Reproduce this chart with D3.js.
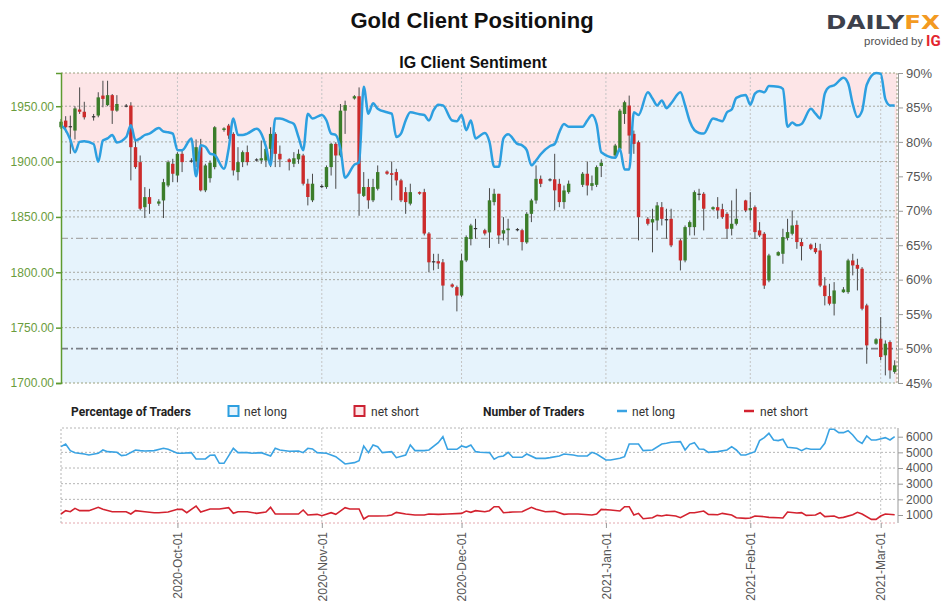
<!DOCTYPE html>
<html>
<head>
<meta charset="utf-8">
<script src="https://cdnjs.cloudflare.com/ajax/libs/d3/7.8.5/d3.min.js"></script>
<style>
  body { margin: 0; background: #fff; }
  svg { font-family: Roboto, "Liberation Sans", sans-serif; }
</style>
</head>
<body>
<svg id="chart" width="952" height="603"></svg>
<script>
// Gold daily candles: [date, open, high, low, close], one line per week
const candles = [
  ["2020-09-06",1931,1938.5,1929.5,1936],["2020-09-07",1937,1941,1926.5,1931],["2020-09-08",1932,1941.5,1907,1931],["2020-09-09",1928,1950,1920,1948],["2020-09-10",1947,1967,1943,1945],["2020-09-11",1945,1954,1938,1940],
  ["2020-09-13",1941,1943,1937,1940],["2020-09-14",1941.6,1962.6,1940,1958],["2020-09-15",1959.6,1973,1949,1956.6],["2020-09-16",1951,1973,1950,1960],["2020-09-17",1960,1961,1934,1946],["2020-09-18",1946,1960,1945,1952],
  ["2020-09-20",1950.6,1952,1949,1950],["2020-09-21",1950.6,1953.6,1883,1913],["2020-09-22",1913,1919,1893.5,1895],["2020-09-23",1899.5,1905.5,1855.8,1857.4],["2020-09-24",1858.8,1876.9,1849,1867.9],["2020-09-25",1867.9,1875.4,1852.8,1861.8],
  ["2020-09-27",1862,1866,1860,1864],["2020-09-28",1864.9,1884.4,1849,1881.4],["2020-09-29",1878.4,1901,1876.9,1899.5],["2020-09-30",1898,1902.5,1881.4,1889],["2020-10-01",1887.4,1908.5,1881.4,1907],["2020-10-02",1907,1910,1890.5,1899.5],
  ["2020-10-04",1901,1903,1899,1900.5],["2020-10-05",1900,1920,1895,1913],["2020-10-06",1913,1920.5,1873,1874],["2020-10-07",1874,1898,1872.4,1896.5],["2020-10-08",1885,1901,1881,1899],["2020-10-09",1895,1932,1893,1931],
  ["2020-10-11",1928.5,1931,1927,1930],["2020-10-12",1932.5,1934,1920.5,1923.5],["2020-10-13",1925,1926.5,1887.4,1892],["2020-10-14",1890.5,1913,1883,1899.5],["2020-10-15",1899.5,1910,1895,1908.5],["2020-10-16",1908.5,1914.5,1896.5,1899.5],
  ["2020-10-18",1902,1903,1900,1901],["2020-10-19",1901,1919,1898,1903],["2020-10-20",1901,1913,1895,1911.5],["2020-10-21",1911.5,1931,1895,1925],["2020-10-22",1925,1926.5,1895,1907],["2020-10-23",1907,1914.5,1895,1902],
  ["2020-10-25",1902,1903,1892,1899.5],["2020-10-26",1898,1908.5,1895,1903],["2020-10-27",1902,1911,1898,1907],["2020-10-28",1905.5,1907,1878.4,1880],["2020-10-29",1880,1884.4,1860.4,1868],["2020-10-30",1865,1889,1863.4,1880],
  ["2020-11-01",1877,1879.5,1876,1878],["2020-11-02",1877,1896.5,1875.4,1895],["2020-11-03",1895,1917,1887.4,1916],["2020-11-04",1916,1917.5,1875.4,1905.5],["2020-11-05",1905.5,1952,1904,1946],["2020-11-06",1946,1955,1925,1951],
  ["2020-11-08",1957,1960,1956,1959],["2020-11-09",1959,1967,1851,1871],["2020-11-10",1869,1890.5,1868,1877],["2020-11-11",1877,1884.4,1857.4,1865],["2020-11-12",1865,1884.4,1863.4,1877],["2020-11-13",1875.4,1896.5,1873.9,1890.5],
  ["2020-11-15",1891,1892,1888,1889],["2020-11-16",1889.5,1900,1865,1888],["2020-11-17",1890.5,1893.5,1878.4,1883],["2020-11-18",1883,1884.4,1863.4,1865],["2020-11-19",1872.4,1876.9,1852.8,1863.4],["2020-11-20",1862,1880,1860.4,1872.4],
  ["2020-11-22",1872.4,1873,1870,1871],["2020-11-23",1872.4,1875.4,1833.3,1835],["2020-11-24",1835,1836.3,1800,1809],["2020-11-25",1809,1816.7,1801.7,1810],["2020-11-26",1810,1816.7,1803,1808],["2020-11-27",1809,1812,1774.6,1788],
  ["2020-11-29",1789,1790,1786,1787],["2020-11-30",1786.6,1788,1764.7,1779],["2020-12-01",1779,1816.7,1777.6,1810.7],["2020-12-02",1810.7,1833.3,1809.2,1831.8],["2020-12-03",1830,1843.8,1824.3,1842.3],["2020-12-04",1840,1848.3,1830.3,1839],
  ["2020-12-06",1838,1839.3,1833.3,1835],["2020-12-07",1836,1876,1822,1865],["2020-12-08",1863.4,1875.4,1860.4,1870.9],["2020-12-09",1870.9,1870.9,1825.7,1833.3],["2020-12-10",1835,1849.8,1828.8,1838],["2020-12-11",1838,1848.3,1824.3,1839.5],
  ["2020-12-13",1839,1840,1837,1838],["2020-12-14",1838,1839.3,1819.7,1827.3],["2020-12-15",1827,1854.3,1825.7,1852.8],["2020-12-16",1852.8,1866.4,1845.3,1864.9],["2020-12-17",1864.9,1896.5,1861.9,1884.4],["2020-12-18",1884.4,1887.4,1876.9,1879.9],
  ["2020-12-20",1883,1885,1882,1884],["2020-12-21",1884,1907,1856,1874],["2020-12-22",1879.9,1884.4,1858.8,1863.4],["2020-12-23",1863.4,1878.4,1857.4,1873.9],["2020-12-24",1872.4,1882.9,1870.9,1880],
  ["2020-12-27",1879,1890.5,1877,1889],["2020-12-28",1889,1900,1869.4,1878.4],["2020-12-29",1878,1887.4,1873.9,1880.5],["2020-12-30",1879,1896.5,1877,1895],["2020-12-31",1896,1902,1886,1899],
  ["2021-01-03",1905.5,1916,1904,1914.5],["2021-01-04",1911.5,1947.6,1910,1946],["2021-01-05",1943,1955,1934,1953.6],["2021-01-06",1950.6,1959.6,1907,1923.5],["2021-01-07",1925,1928,1907,1916],["2021-01-08",1917.5,1919,1828.8,1849.8],
  ["2021-01-10",1848.3,1849.8,1842.3,1843.8],["2021-01-11",1845,1857.4,1818,1848],["2021-01-12",1846.8,1863.4,1837.8,1860.4],["2021-01-13",1858.8,1863.4,1842.3,1848.3],["2021-01-14",1848,1857.4,1830.3,1847],["2021-01-15",1848.3,1857.4,1822.7,1824.3],
  ["2021-01-17",1828.8,1830.3,1801.7,1810.7],["2021-01-18",1810.7,1842.3,1809,1840.8],["2021-01-19",1840.8,1846.8,1833.3,1845.3],["2021-01-20",1840.8,1873.9,1833.3,1872.4],["2021-01-21",1870,1875.4,1865,1871],["2021-01-22",1870.9,1872.4,1837.8,1857.4],
  ["2021-01-24",1857,1859.5,1856,1858.8],["2021-01-25",1858.8,1867.9,1848.3,1855.8],["2021-01-26",1857,1861.9,1848.3,1849.8],["2021-01-27",1852.8,1854.3,1830.3,1839.3],["2021-01-28",1839.3,1864.9,1833.3,1843.8],["2021-01-29",1843.8,1875.4,1842.3,1848.3],
  ["2021-01-31",1864.9,1865.5,1854.3,1855.8],["2021-02-01",1856,1872.4,1846.8,1858],["2021-02-02",1858.8,1860.4,1830.3,1836.3],["2021-02-03",1837.8,1845.3,1831.8,1833.3],["2021-02-04",1834.8,1836.3,1785,1788],["2021-02-05",1792.6,1816.7,1791,1815.2],
  ["2021-02-07",1815.2,1819,1814.6,1818.2],["2021-02-08",1816.7,1839.3,1807.7,1831.8],["2021-02-09",1831,1848.3,1828.8,1836.3],["2021-02-10",1834.8,1855.8,1833.3,1842.3],["2021-02-11",1842.8,1846.8,1821.2,1827.3],["2021-02-12",1827.3,1830.3,1810.7,1823.6],
  ["2021-02-14",1825,1826,1820,1821.2],["2021-02-15",1821.8,1826.6,1816.7,1818.2],["2021-02-16",1819.7,1825.7,1786.6,1788],["2021-02-17",1788,1795.6,1770.1,1778.5],["2021-02-18",1778.5,1789.6,1770.1,1771.6],["2021-02-19",1771.6,1791.1,1761,1783.6],
  ["2021-02-21",1782,1786.6,1781.5,1784.5],["2021-02-22",1782.1,1812.2,1780.6,1810.7],["2021-02-23",1810.7,1816.7,1797.2,1806.2],["2021-02-24",1806.7,1812.2,1783.6,1803.2],["2021-02-25",1803.2,1804.7,1765.6,1767.1],["2021-02-26",1770.1,1771.6,1717.4,1734],
  ["2021-02-28",1735.5,1740.5,1734.5,1739.5],["2021-03-01",1740,1759.5,1720.5,1723.5],["2021-03-02",1725,1738.5,1706.9,1735.5],["2021-03-03",1737,1738.5,1703.9,1711.4],["2021-03-04",1710,1720.5,1708.4,1715.9]
];

// % of traders net long, one value per candle above (same week layout)
const netLongPct = [
  82.4,81.7,80.3,78.5,80.0,80.1,
  79.7,77.1,80.2,80.5,81.0,79.9,
  80.7,82.4,80.2,80.5,81.0,81.2,
  82.0,81.5,81.4,81.2,78.8,78.8,
  80.5,75.0,79.5,79.3,78.3,78.1,
  76.1,79.0,83.4,81.0,81.0,81.2,
  81.9,81.2,79.3,76.6,83.4,83.4,
  82.9,82.6,80.7,78.8,84.1,83.4,
  83.9,83.1,81.2,81.0,79.0,74.8,
  76.7,77.0,88.0,84.1,85.6,84.8,
  84.3,84.1,80.7,81.2,83.1,84.3,
  84.0,83.9,83.1,84.6,85.4,85.3,
  83.1,83.0,83.9,81.7,83.1,80.5,
  81.3,80.0,76.4,76.4,80.5,81.1,
  79.7,79.5,78.8,76.6,77.3,78.2,
  79.4,79.7,81.4,82.6,82.2,
  82.2,83.1,83.9,82.6,78.5,
  77.7,79.0,76.0,76.0,84.3,83.9,
  87.2,86.3,85.3,86.0,84.9,85.6,
  87.2,85.3,83.0,81.7,81.3,81.2,
  83.4,83.2,83.0,84.3,84.7,86.4,
  86.8,85.4,87.0,87.4,87.2,88.1,
  88.0,87.7,82.2,82.8,82.4,82.6,
  84.8,84.1,83.4,87.0,88.0,88.2,
  89.3,88.5,85.5,83.6,84.5,88.3,
  90.0,89.9,86.2,85.3,85.3
];

// number of traders net long
const tradersLong = [
  ["2020-09-06",5365],["2020-09-07",5535],["2020-09-08",5110],["2020-09-09",4980],["2020-09-11",4896],["2020-09-12",4832],["2020-09-14",4939],["2020-09-15",5152],["2020-09-16",5045],["2020-09-18",5003],["2020-09-19",4790],["2020-09-20",4832],["2020-09-22",5152],["2020-09-23",5110],["2020-09-24",5088],["2020-09-26",5110],["2020-09-28",5258],["2020-09-29",5194],
  ["2020-10-01",4939],["2020-10-02",4939],["2020-10-04",4980],["2020-10-05",4577],["2020-10-07",4577],["2020-10-08",4811],["2020-10-09",4832],["2020-10-10",4300],["2020-10-11",4300],["2020-10-13",5258],["2020-10-14",4981],["2020-10-16",4981],["2020-10-17",4939],["2020-10-19",4981],["2020-10-21",4768],["2020-10-22",5258],["2020-10-23",5152],["2020-10-25",5067],["2020-10-27",5088],["2020-10-28",4981],["2020-10-29",5258],["2020-10-30",5215],["2020-10-31",4981],
  ["2020-11-02",4939],["2020-11-04",4726],["2020-11-06",4257],["2020-11-08",4342],["2020-11-09",4470],["2020-11-10",5407],["2020-11-11",4981],["2020-11-12",5470],["2020-11-13",5365],["2020-11-14",4981],["2020-11-16",5045],["2020-11-17",4662],["2020-11-19",4832],["2020-11-20",5470],["2020-11-21",5110],["2020-11-23",5110],["2020-11-24",5152],["2020-11-26",5620],["2020-11-27",6003],["2020-11-28",5194],["2020-11-30",5194],
  ["2020-12-01",5407],["2020-12-02",5322],["2020-12-03",5470],["2020-12-04",5045],["2020-12-05",5003],["2020-12-07",4981],["2020-12-08",4556],["2020-12-09",4726],["2020-12-10",4768],["2020-12-11",5003],["2020-12-12",4683],["2020-12-14",4683],["2020-12-15",4896],["2020-12-17",4619],["2020-12-19",4619],["2020-12-20",4662],["2020-12-22",4768],["2020-12-23",4896],["2020-12-25",4832],["2020-12-26",4768],["2020-12-28",4768],["2020-12-29",5003],["2020-12-30",4896],
  ["2021-01-01",4513],["2021-01-02",4513],["2021-01-04",4619],["2021-01-05",4726],["2021-01-06",5535],["2021-01-08",5535],["2021-01-09",5110],["2021-01-11",5152],["2021-01-13",5535],["2021-01-14",5577],["2021-01-15",5641],["2021-01-17",5684],["2021-01-18",5152],["2021-01-19",5514],["2021-01-20",5620],["2021-01-21",5215],["2021-01-22",5194],["2021-01-23",5003],["2021-01-25",5045],["2021-01-27",5152],["2021-01-28",5365],["2021-01-29",5152],["2021-01-30",4832],["2021-01-31",4832],
  ["2021-02-02",5045],["2021-02-03",5748],["2021-02-04",5939],["2021-02-05",6216],["2021-02-06",5790],["2021-02-07",5748],["2021-02-08",5833],["2021-02-09",5322],["2021-02-11",5258],["2021-02-12",5110],["2021-02-13",5258],["2021-02-14",5194],["2021-02-16",5194],["2021-02-17",5577],["2021-02-18",6471],["2021-02-19",6471],["2021-02-20",6258],["2021-02-21",6258],["2021-02-22",6386],["2021-02-23",6110],["2021-02-24",5748],["2021-02-25",5577],["2021-02-26",6046],["2021-02-27",5790],["2021-02-28",5790],
  ["2021-03-02",5939],["2021-03-03",5790],["2021-03-04",6003]
];

// number of traders net short
const tradersShort = [
  ["2020-09-06",1064],["2020-09-07",1277],["2020-09-08",1213],["2020-09-09",1426],["2020-09-10",1277],["2020-09-12",1277],["2020-09-14",1490],["2020-09-15",1362],["2020-09-17",1213],["2020-09-18",1213],["2020-09-20",1213],["2020-09-21",1064],["2020-09-22",1277],["2020-09-24",1213],["2020-09-26",1149],["2020-09-27",1149],["2020-09-29",1192],
  ["2020-10-01",1362],["2020-10-02",1362],["2020-10-03",1149],["2020-10-05",1575],["2020-10-06",1192],["2020-10-08",1383],["2020-10-10",1383],["2020-10-12",1468],["2020-10-13",1106],["2020-10-14",1213],["2020-10-16",1213],["2020-10-18",1106],["2020-10-20",1192],["2020-10-21",1490],["2020-10-22",1064],["2020-10-24",1064],["2020-10-27",1064],["2020-10-28",1319],["2020-10-29",1000],["2020-10-31",1043],
  ["2020-11-01",957],["2020-11-03",1149],["2020-11-04",1043],["2020-11-06",1468],["2020-11-07",1383],["2020-11-09",1383],["2020-11-10",745],["2020-11-11",936],["2020-11-13",936],["2020-11-15",957],["2020-11-16",1000],["2020-11-17",1170],["2020-11-19",1064],["2020-11-21",1000],["2020-11-23",1000],["2020-11-24",1064],["2020-11-26",1043],["2020-11-28",1064],
  ["2020-12-01",1106],["2020-12-02",1255],["2020-12-03",1170],["2020-12-04",1277],["2020-12-06",1213],["2020-12-07",1277],["2020-12-08",1532],["2020-12-09",1532],["2020-12-10",1149],["2020-12-12",1192],["2020-12-14",1213],["2020-12-16",1490],["2020-12-17",1362],["2020-12-19",1213],["2020-12-21",1234],["2020-12-23",1043],["2020-12-24",1064],["2020-12-26",1064],["2020-12-29",1000],["2020-12-30",1064],["2020-12-31",1362],
  ["2021-01-02",1319],["2021-01-04",1255],["2021-01-05",1532],["2021-01-06",1532],["2021-01-07",1000],["2021-01-08",1106],["2021-01-09",766],["2021-01-11",830],["2021-01-12",979],["2021-01-13",936],["2021-01-14",1000],["2021-01-16",936],["2021-01-17",830],["2021-01-19",1149],["2021-01-20",1149],["2021-01-22",1255],["2021-01-23",1043],["2021-01-25",1021],["2021-01-26",1106],["2021-01-28",1000],["2021-01-29",830],["2021-01-31",787],
  ["2021-02-01",809],["2021-02-02",936],["2021-02-04",894],["2021-02-05",851],["2021-02-07",830],["2021-02-08",809],["2021-02-09",1192],["2021-02-11",1128],["2021-02-12",1149],["2021-02-13",979],["2021-02-15",1000],["2021-02-16",1149],["2021-02-17",894],["2021-02-19",936],["2021-02-20",809],["2021-02-21",851],["2021-02-23",1021],["2021-02-24",1170],["2021-02-25",1064],["2021-02-27",723],["2021-02-28",723],
  ["2021-03-01",936],["2021-03-02",1064],["2021-03-04",1021]
];

const priceTicks = [1700, 1750, 1800, 1850, 1900, 1950];
const pctTicks = [45, 50, 55, 60, 65, 70, 75, 80, 85, 90];
const pctGrid = [80, 70, 60];
const countTicks = [1000, 2000, 3000, 4000, 5000, 6000];
const monthTicks = ["2020-10-01", "2020-11-01", "2020-12-01", "2021-01-01", "2021-02-01", "2021-03-01"];

// ---- layout
const svg = d3.select("#chart");
const L = 61, R = 897, T = 73, B = 383;     // main panel
const T2 = 428, B2 = 523;                    // traders panel
const parse = d3.timeParse("%Y-%m-%d");

const x = d3.scaleTime()
  .domain([parse("2020-09-06"), new Date(2021, 2, 4, 12)])
  .range([L, R]);
const yPrice = d3.scaleLinear().domain([1700, 1980]).range([B, T]);
const yPct = d3.scaleLinear().domain([45, 90]).range([B, T]);
const yCount = d3.scaleLinear().domain([490, 6555]).range([B2, T2]);

const bars = candles.map((c, i) => ({
  date: parse(c[0]), open: c[1], high: c[2], low: c[3], close: c[4], pct: netLongPct[i]
}));
const longs = tradersLong.map(d => ({ date: parse(d[0]), v: d[1] }));
const shorts = tradersShort.map(d => ({ date: parse(d[0]), v: d[1] }));

const dot = "2,2";
const gridColor = "#a8a8a0";

// ---- main panel background: net short above the line, net long below
svg.append("rect").attr("x", L).attr("y", T).attr("width", R - L).attr("height", B - T)
  .attr("fill", "#fde5e7");
svg.append("path").datum(bars)
  .attr("fill", "#e6f3fc")
  .attr("d", d3.area().x(d => x(d.date)).y0(B).y1(d => yPct(d.pct)).curve(d3.curveMonotoneX));

// grid
const grid = svg.append("g").attr("fill", "none").attr("stroke", gridColor).attr("stroke-dasharray", dot);
grid.selectAll(".hp").data(priceTicks.slice(1)).join("line")
  .attr("x1", L).attr("x2", R).attr("y1", d => yPrice(d)).attr("y2", d => yPrice(d));
grid.selectAll(".hq").data(pctGrid).join("line")
  .attr("x1", L).attr("x2", R).attr("y1", d => yPct(d)).attr("y2", d => yPct(d));
grid.selectAll(".v").data(monthTicks).join("line")
  .attr("x1", d => x(parse(d))).attr("x2", d => x(parse(d))).attr("y1", T).attr("y2", B)
  .attr("stroke", "#c4c4c4");

// frame of the main panel
svg.append("path").attr("fill", "none").attr("stroke", "#9aa07e").attr("stroke-dasharray", dot)
  .attr("d", `M${L},${T}H${R}V${B}H${L}`);

// reference lines
svg.append("line").attr("x1", L).attr("x2", R).attr("y1", yPct(66)).attr("y2", yPct(66))
  .attr("stroke", "#a9a9a9").attr("stroke-width", 1.3).attr("stroke-dasharray", "7,3,2,3");
svg.append("line").attr("x1", L).attr("x2", R).attr("y1", yPct(50)).attr("y2", yPct(50))
  .attr("stroke", "#7a7f86").attr("stroke-width", 1.8).attr("stroke-dasharray", "7,3,2,3");

// candles
const bw = 3.4;
const cg = svg.append("g");
cg.selectAll("line").data(bars).join("line")
  .attr("x1", d => x(d.date)).attr("x2", d => x(d.date))
  .attr("y1", d => yPrice(d.high)).attr("y2", d => yPrice(d.low))
  .attr("stroke", "#4a4a4a").attr("stroke-width", 1);
cg.selectAll("rect").data(bars).join("rect")
  .attr("x", d => x(d.date) - bw / 2).attr("width", bw)
  .attr("y", d => yPrice(Math.max(d.open, d.close)))
  .attr("height", d => Math.max(1.2, Math.abs(yPrice(d.open) - yPrice(d.close))))
  .attr("fill", d => Math.abs(d.close - d.open) < 1.2 ? "#333" : (d.close > d.open ? "#3b7d2a" : "#cc2b2b"));

// net long % line
svg.append("path").datum(bars)
  .attr("fill", "none").attr("stroke", "#2d9fe0").attr("stroke-width", 2.5)
  .attr("stroke-linejoin", "round")
  .attr("d", d3.line().x(d => x(d.date)).y(d => yPct(d.pct)).curve(d3.curveMonotoneX));

// left price axis
const ax1 = svg.append("g").attr("transform", `translate(${L},0)`)
  .call(d3.axisLeft(yPrice).tickValues(priceTicks).tickFormat(d3.format(".2f")).tickSize(5).tickSizeOuter(5));
ax1.select(".domain").attr("stroke", "#5e9a30").attr("stroke-width", 1.5);
ax1.selectAll(".tick line").attr("stroke", "#5e9a30").attr("stroke-width", 1.5);
ax1.selectAll("text").attr("fill", "#6a9c3c").style("font-size", "12px").attr("x", -7);

// right % axis
const ax2 = svg.append("g").attr("transform", `translate(${R + 1},0)`)
  .call(d3.axisRight(yPct).tickValues(pctTicks).tickFormat(d => d + "%").tickSize(5).tickSizeOuter(0));
ax2.selectAll(".domain, .tick line").attr("stroke", "#999");
ax2.selectAll("text").attr("fill", "#555").style("font-size", "13px").attr("x", 8);

// ---- traders panel
const g2 = svg.append("g").attr("fill", "none").attr("stroke-dasharray", dot);
g2.selectAll(".h").data(countTicks.slice(1, 5)).join("line")
  .attr("x1", L).attr("x2", R).attr("y1", d => yCount(d)).attr("y2", d => yCount(d))
  .attr("stroke", "#b5b5b5");
g2.selectAll(".v").data(monthTicks).join("line")
  .attr("x1", d => x(parse(d))).attr("x2", d => x(parse(d))).attr("y1", T2).attr("y2", B2)
  .attr("stroke", "#c4c4c4");
g2.append("path").attr("stroke", "#b5b5b5").attr("d", `M${L},${B2}V${T2}H${R}`);
g2.append("line").attr("x1", L).attr("x2", R).attr("y1", B2).attr("y2", B2).attr("stroke", "#e3a8ae");

const countLine = d3.line().x(d => x(d.date)).y(d => yCount(d.v));
svg.append("path").datum(longs).attr("fill", "none").attr("stroke", "#3aa3e3").attr("stroke-width", 1.6).attr("d", countLine);
svg.append("path").datum(shorts).attr("fill", "none").attr("stroke", "#d3222f").attr("stroke-width", 1.6).attr("d", countLine);

const ax3 = svg.append("g").attr("transform", `translate(${R + 1},0)`)
  .call(d3.axisRight(yCount).tickValues(countTicks).tickFormat(d3.format("d")).tickSize(5).tickSizeOuter(0));
ax3.select(".domain").attr("d", `M0,${T2}V${B2}`);
ax3.selectAll(".domain, .tick line").attr("stroke", "#999");
ax3.selectAll("text").attr("fill", "#555").style("font-size", "12px").attr("x", 8);

const ax4 = svg.append("g").attr("transform", `translate(0,${B2})`)
  .call(d3.axisBottom(x).tickValues(monthTicks.map(parse)).tickFormat(d3.timeFormat("%Y-%b-%d")).tickSize(5));
ax4.select(".domain").remove();
ax4.selectAll(".tick line").attr("stroke", "#999");
ax4.selectAll("text")
  .attr("transform", "rotate(-90)").attr("x", -9).attr("y", 0).attr("dy", "0.35em")
  .style("text-anchor", "end").style("font-size", "12px").attr("fill", "#555");

// ---- legend
const lg = svg.append("g").style("font-size", "12px");
lg.append("text").attr("x", 71).attr("y", 416).attr("font-weight", "bold").attr("fill", "#222").text("Percentage of Traders");
lg.append("rect").attr("x", 228.5).attr("y", 406).attr("width", 10).attr("height", 10)
  .attr("fill", "#e6f3fc").attr("stroke", "#2d9fe0").attr("stroke-width", 2);
lg.append("text").attr("x", 244).attr("y", 416).attr("fill", "#333").text("net long");
lg.append("rect").attr("x", 354.5).attr("y", 406).attr("width", 10).attr("height", 10)
  .attr("fill", "#fde5e7").attr("stroke", "#cc2233").attr("stroke-width", 2);
lg.append("text").attr("x", 371).attr("y", 416).attr("fill", "#333").text("net short");
lg.append("text").attr("x", 483).attr("y", 416).attr("font-weight", "bold").attr("fill", "#222").text("Number of Traders");
lg.append("line").attr("x1", 617).attr("x2", 627).attr("y1", 411).attr("y2", 411).attr("stroke", "#3aa3e3").attr("stroke-width", 2.5);
lg.append("text").attr("x", 632).attr("y", 416).attr("fill", "#333").text("net long");
lg.append("line").attr("x1", 744).attr("x2", 754).attr("y1", 411).attr("y2", 411).attr("stroke", "#d3222f").attr("stroke-width", 2.5);
lg.append("text").attr("x", 760).attr("y", 416).attr("fill", "#333").text("net short");

// ---- titles
svg.append("text").attr("x", 472).attr("y", 28).attr("text-anchor", "middle")
  .style("font-family", "'Liberation Sans', Arial, sans-serif").style("font-size", "22px").attr("font-weight", "bold")
  .attr("fill", "#111").text("Gold Client Positioning");
svg.append("text").attr("x", 473).attr("y", 68).attr("text-anchor", "middle")
  .style("font-family", "'Liberation Sans', Arial, sans-serif").style("font-size", "16px").attr("font-weight", "bold")
  .attr("fill", "#111").text("IG Client Sentiment");

// ---- DailyFX logo
const logo = svg.append("text").attr("x", 826).attr("y", 29)
  .style("font-family", "'DejaVu Sans', sans-serif").style("font-size", "19px").attr("font-weight", "bold")
  .attr("textLength", 114).attr("lengthAdjust", "spacingAndGlyphs");
logo.append("tspan").attr("fill", "#3d414c").text("DAILY");
logo.append("tspan").attr("fill", "#f39a21").text("FX");
svg.append("text").attr("x", 864).attr("y", 45).style("font-size", "11.5px").attr("fill", "#555").text("provided by");
svg.append("text").attr("x", 926).attr("y", 46).style("font-size", "15px").attr("font-weight", "bold")
  .attr("fill", "#e3262f").text("IG");
</script>
</body>
</html>
